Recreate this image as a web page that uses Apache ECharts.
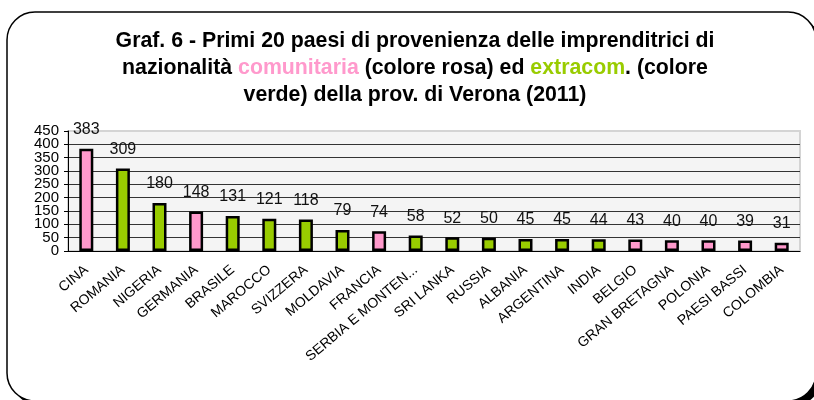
<!DOCTYPE html>
<html>
<head>
<meta charset="utf-8">
<script src="https://cdn.jsdelivr.net/npm/echarts@6/dist/echarts.min.js"></script>
<style>html,body{margin:0;padding:0;background:#fff}#c{width:814px;height:400px}</style>
</head>
<body>
<div id="c"></div>
<script>
const countries = ["CINA","ROMANIA","NIGERIA","GERMANIA","BRASILE","MAROCCO","SVIZZERA","MOLDAVIA","FRANCIA","SERBIA E MONTEN...","SRI LANKA","RUSSIA","ALBANIA","ARGENTINA","INDIA","BELGIO","GRAN BRETAGNA","POLONIA","PAESI BASSI","COLOMBIA"];
const values = [383,309,180,148,131,121,118,79,74,58,52,50,45,45,44,43,40,40,39,31];
const group = ["C","E","E","C","E","E","E","E","C","E","E","E","E","E","E","C","C","C","C","C"];
const groupColors = {C:"#ff99cc", E:"#99cc00"};
const yTicks = [0,50,100,150,200,250,300,350,400,450];
const yMin = 0, yMax = 450, yStep = 50;

const FONT = 'Liberation Sans, Arial, sans-serif';
const chart = echarts.init(document.getElementById('c'), null, {renderer:'canvas'});
const splitColors = yTicks.map(v => v === yMax ? '#d4d4d4' : '#333333');
const ticksA = yTicks.filter((v,i)=>i%2===0);
const ticksB = yTicks.filter((v,i)=>i%2===1);
const yLabelStyle = {color:'#000', margin:9, fontSize:15, fontFamily:FONT, hideOverlap:false};

chart.setOption({
  animation:false,
  graphic:[
    {type:'rect', z:-10, shape:{x:12,y:17,width:809,height:389,r:28}, style:{fill:'#000'}},
    {type:'rect', z:-9, shape:{x:7,y:12,width:809,height:389,r:28}, style:{fill:'#fff',stroke:'#000',lineWidth:1.5}}
  ],
  title:{
    left:410, top:23, textAlign:'center',
    text:'Graf. 6 - Primi 20 paesi di provenienza delle imprenditrici di\nnazionalità {p|comunitaria} (colore rosa) ed {g|extracom}. (colore\nverde) della prov. di Verona (2011)',
    textStyle:{fontFamily:FONT, fontSize:21.3, fontWeight:'bold', color:'#000', lineHeight:27,
      rich:{p:{color:'#ff99cc',fontSize:21.3,fontWeight:'bold',fontFamily:FONT,lineHeight:27},
            g:{color:'#99cc00',fontSize:21.3,fontWeight:'bold',fontFamily:FONT,lineHeight:27}}}
  },
  grid:{left:68, right:14, top:131, bottom:149, show:true, backgroundColor:'#f4f4f4', borderColor:'#d4d4d4', borderWidth:2},
  xAxis:{
    type:'category', data:countries,
    axisLine:{lineStyle:{color:'#000',width:1}},
    axisTick:{length:5, lineStyle:{color:'#000'}},
    axisLabel:{rotate:40, margin:17, interval:0, fontSize:14, color:'#000', fontFamily:FONT}
  },
  yAxis:[{
    type:'value', min:yMin, max:yMax, interval:yStep, position:'left',
    axisLine:{show:true, lineStyle:{color:'#000',width:1}},
    axisTick:{show:true, length:4, lineStyle:{color:'#000'}},
    axisLabel:Object.assign({customValues:ticksA}, yLabelStyle),
    splitLine:{show:true, lineStyle:{color:splitColors, width:1}}
  },{
    type:'value', min:yMin, max:yMax, interval:yStep, position:'left', offset:0,
    axisLine:{show:false}, axisTick:{show:false}, splitLine:{show:false},
    axisLabel:Object.assign({customValues:ticksB}, yLabelStyle)
  }],
  series:[{
    type:'bar', barWidth:14, yAxisIndex:0,
    data: values.map((v,i)=>({value:v, itemStyle:{color:groupColors[group[i]]}})),
    itemStyle:{borderColor:'#000', borderWidth:2.5},
    label:{show:true, position:'top', distance:11, fontSize:16, color:'#111', fontFamily:FONT}
  }]
});
</script>
</body>
</html>
